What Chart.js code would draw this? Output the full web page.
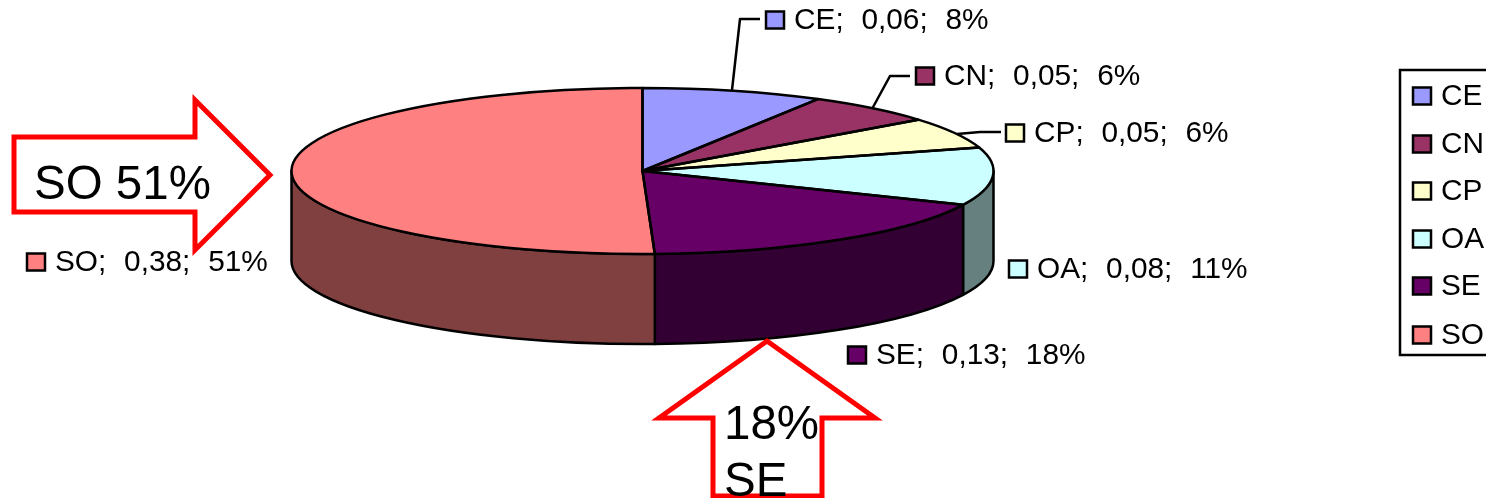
<!DOCTYPE html>
<html>
<head>
<meta charset="utf-8">
<style>
  body { margin: 0; background: #fff; overflow: hidden; }
  canvas { display: block; }
</style>
<script src="https://cdn.jsdelivr.net/npm/chart.js@4"></script>
</head>
<body>
<canvas id="pie" width="1486" height="498"></canvas>
<script>
const categories = ['CE', 'CN', 'CP', 'OA', 'SE', 'SO'];
const seriesValues = [0.0626, 0.0455, 0.0455, 0.0845, 0.1335, 0.38];

const sliceColors = ['#9999ff', '#993366', '#ffffcc', '#ccffff', '#660066', '#ff8080'];
const wallColors = ['#4d4d80', '#4d1a33', '#808066', '#668080', '#330033', '#804040'];

// pie ellipse: chart.js gives a circle, it gets stretched sideways when drawn
const stretch = 351 / 83;
const depth = 90;
const labelFont = '29.8px "Liberation Sans", Arial, sans-serif';
const arrowFont = '47.5px "Liberation Sans", Arial, sans-serif';

// where each data label sits [swatch x, middle y], same order as categories
const labelSpots = [[766, 20], [916, 76], [1006, 133], [1009, 269], [848, 355], [27, 262]];
const leaders = [
    [[732, 90], [740, 19], [760, 19]],
    [[872, 109], [890, 76], [910, 76]],
    [[957, 134], [980, 132], [1001, 132]]
];
const legendRows = [96, 144, 191, 239, 286, 335];

const total = seriesValues.reduce((a, b) => a + b, 0);
const labelText = i => {
    const val = seriesValues[i].toFixed(2).replace('.', ',');
    const pct = Math.round(seriesValues[i] / total * 100);
    return `${categories[i]}; ${val}; ${pct}%`;
};

function swatch(ctx, x, y, color) {
    ctx.fillStyle = color;
    ctx.strokeStyle = '#000';
    ctx.lineWidth = 2.5;
    ctx.fillRect(x, y - 8.5, 18, 17);
    ctx.strokeRect(x, y - 8.5, 18, 17);
}

function outline(ctx, points, close) {
    ctx.beginPath();
    points.forEach((p, i) => i ? ctx.lineTo(p[0], p[1]) : ctx.moveTo(p[0], p[1]));
    if (close) ctx.closePath();
}

const pie3d = {
    id: 'pie3d',
    beforeDatasetsDraw(chart) {
        const ctx = chart.ctx;
        const arcs = chart.getDatasetMeta(0).data;

        // side wall, only the front half of the rim shows
        arcs.forEach((arc, i) => {
            const from = Math.max(arc.startAngle, 0);
            const to = Math.min(arc.endAngle, Math.PI);
            if (to <= from) return;
            const rx = arc.outerRadius * stretch;
            const ry = arc.outerRadius;
            ctx.beginPath();
            ctx.ellipse(arc.x, arc.y, rx, ry, 0, from, to);
            ctx.ellipse(arc.x, arc.y + depth, rx, ry, 0, to, from, true);
            ctx.closePath();
            ctx.fillStyle = wallColors[i];
            ctx.fill();
            ctx.strokeStyle = '#000';
            ctx.lineWidth = 2.5;
            ctx.lineJoin = 'round';
            ctx.stroke();
        });

        ctx.save();
        const c = arcs[0];
        ctx.translate(c.x, c.y);
        ctx.scale(stretch, 1);
        ctx.translate(-c.x, -c.y);
    },
    afterDatasetsDraw(chart) {
        const ctx = chart.ctx;
        ctx.restore();

        // slice edges here so the stretch does not thicken the line
        chart.getDatasetMeta(0).data.forEach(arc => {
            ctx.beginPath();
            ctx.moveTo(arc.x, arc.y);
            ctx.ellipse(arc.x, arc.y, arc.outerRadius * stretch, arc.outerRadius, 0, arc.startAngle, arc.endAngle);
            ctx.closePath();
            ctx.strokeStyle = '#000';
            ctx.lineWidth = 2.5;
            ctx.lineJoin = 'round';
            ctx.stroke();
        });
    },
    afterDraw(chart) {
        const ctx = chart.ctx;
        ctx.save();
        ctx.textBaseline = 'middle';
        ctx.textAlign = 'left';

        // leader lines
        ctx.strokeStyle = '#000';
        ctx.lineWidth = 2.5;
        leaders.forEach(line => {
            outline(ctx, line, false);
            ctx.stroke();
        });

        // red arrows go under the data labels
        ctx.strokeStyle = '#ff0000';
        ctx.lineWidth = 5;
        ctx.lineJoin = 'miter';
        ctx.fillStyle = '#fff';
        outline(ctx, [[14, 137], [195, 137], [195, 100], [270, 175], [195, 250], [195, 212], [14, 212]], true);
        ctx.fill();
        ctx.stroke();
        outline(ctx, [[767, 341], [875, 418], [822, 418], [822, 496], [713, 496], [713, 418], [659, 418]], true);
        ctx.fill();
        ctx.stroke();

        ctx.fillStyle = '#000';
        ctx.font = arrowFont;
        ctx.textBaseline = 'alphabetic';
        ctx.fillText('SO 51%', 34, 199);
        ctx.fillText('18%', 724, 439);
        ctx.fillText('SE', 724, 496);
        ctx.textBaseline = 'middle';

        // data labels
        ctx.font = labelFont;
        ctx.wordSpacing = '9.5px';
        categories.forEach((cat, i) => {
            const [x, y] = labelSpots[i];
            swatch(ctx, x, y, sliceColors[i]);
            ctx.fillStyle = '#000';
            ctx.fillText(labelText(i), x + 28, y + 1);
        });
        ctx.wordSpacing = '0px';

        // legend runs off the right edge like in the original
        ctx.strokeStyle = '#000';
        ctx.lineWidth = 2.5;
        ctx.strokeRect(1400, 70, 120, 285);
        categories.forEach((cat, i) => {
            swatch(ctx, 1413, legendRows[i], sliceColors[i]);
            ctx.fillStyle = '#000';
            ctx.fillText(cat, 1441, legendRows[i] + 1);
        });
        ctx.restore();
    }
};

new Chart(document.getElementById('pie'), {
    type: 'pie',
    data: {
        labels: categories,
        datasets: [{
            data: seriesValues,
            backgroundColor: sliceColors,
            borderWidth: 0,
            clip: false
        }]
    },
    plugins: [pie3d],
    options: {
        responsive: false,
        animation: false,
        events: [],
        layout: { padding: { left: 292, right: 493, top: 88, bottom: 244 } },
        plugins: {
            legend: { display: false },
            tooltip: { enabled: false }
        }
    }
});
</script>
</body>
</html>
